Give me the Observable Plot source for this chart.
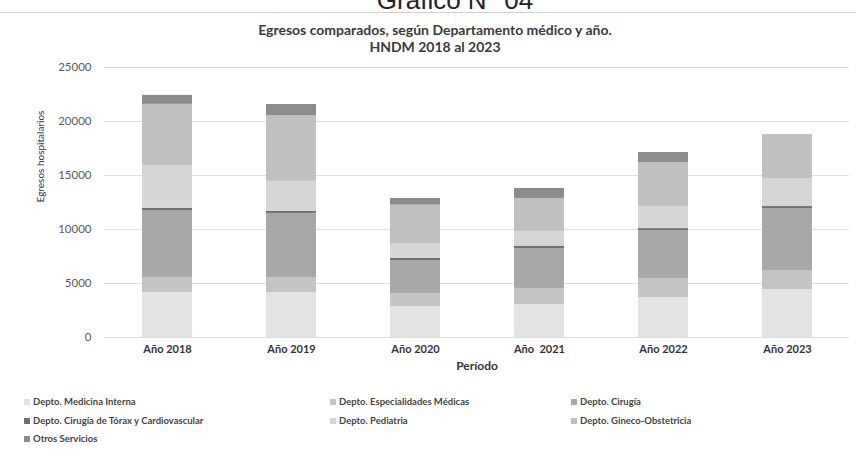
<!DOCTYPE html>
<html>
<head>
<meta charset="utf-8">
<script src="https://cdn.jsdelivr.net/npm/d3@7"></script>
<script src="https://cdn.jsdelivr.net/npm/@observablehq/plot@0.6"></script>
<style>
  html, body { margin: 0; padding: 0; background: #fff; }
  #page { position: relative; width: 856px; height: 452px; overflow: hidden; font-family: Lato, "Open Sans", sans-serif; color: #333; }
  #bigtitle { position: absolute; top: -15px; left: 0; width: 910px; text-align: center; font-family: "Liberation Sans", Arial, sans-serif; font-size: 26px; color: #222; }
  #rule { position: absolute; top: 12px; left: 0; width: 856px; height: 1px; background: #d0d0d0; }
  #t1 { position: absolute; top: 21px; left: 0; width: 870px; text-align: center; font-weight: 700; font-size: 14px; color: #3a3a3a; }
  #t2 { position: absolute; top: 38px; left: 0; width: 870px; text-align: center; font-weight: 700; font-size: 14px; color: #3a3a3a; }
  #chart { position: absolute; top: 55px; left: 0; }
  .leg { position: absolute; font-size: 9.5px; font-weight: 700; color: #444; white-space: nowrap; line-height: 12px; }
  .leg i { display: inline-block; width: 6px; height: 6px; margin-right: 3px; vertical-align: 0px; }
</style>
</head>
<body>
<div id="page">
  <div id="bigtitle">Gráfico N° 04</div>
  <div id="rule"></div>
  <div id="t1">Egresos comparados, según Departamento médico y año.</div>
  <div id="t2">HNDM 2018 al 2023</div>
  <div id="chart"></div>
  <div id="legend"></div>
</div>
<script>
const years = ["Año 2018", "Año 2019", "Año 2020", "Año  2021", "Año 2022", "Año 2023"];
const departments = [
  "Depto. Medicina Interna",
  "Depto. Especialidades Médicas",
  "Depto. Cirugía",
  "Depto. Cirugía de Tórax y Cardiovascular",
  "Depto. Pediatria",
  "Depto. Gineco-Obstetricia",
  "Otros Servicios"
];
const medicinaInterna   = [4170, 4170, 2870, 3060, 3700, 4440];
const especialidades    = [1390, 1390, 1200, 1480, 1760, 1760];
const cirugia           = [6200, 5930, 3060, 3700, 4440, 5740];
const cirugiaTorax      = [200, 185, 185, 185, 185, 185];
const pediatria         = [3980, 2780, 1390, 1400, 2040, 2590];
const ginecoObstetricia = [5650, 6100, 3550, 3050, 4070, 4070];
const otrosServicios    = [830, 1020, 620, 930, 930, 0];
const yTicks = [0, 5000, 10000, 15000, 20000, 25000];
const colors = ["#e3e3e3", "#c4c4c4", "#a8a8a8", "#707070", "#d6d6d6", "#c0c0c0", "#8c8c8c"];

const series = [medicinaInterna, especialidades, cirugia, cirugiaTorax, pediatria, ginecoObstetricia, otrosServicios];
const data = [];
series.forEach((vals, di) => vals.forEach((v, yi) => data.push({year: years[yi], dept: departments[di], value: v})));

const chart = Plot.plot({
  width: 856,
  height: 320,
  marginTop: 12,
  marginBottom: 38,
  marginLeft: 104,
  marginRight: 7,
  style: {fontFamily: "Lato, 'Open Sans', sans-serif", background: "transparent"},
  x: {domain: years, paddingInner: 0.6, paddingOuter: 0.3},
  y: {domain: [0, 25000]},
  color: {domain: departments, range: colors},
  marks: [
    Plot.gridY(yTicks, {stroke: "#e0e0e0", strokeOpacity: 1}),
    Plot.barY(data, {x: "year", y: "value", fill: "dept", order: departments}),
    Plot.axisY(yTicks, {tickSize: 0, tickPadding: 13, fontSize: 11.5, fill: "#5a5a5a", label: null, tickFormat: d => String(d)}),
    Plot.axisX({tickSize: 0, tickPadding: 8, fontSize: 11, fontWeight: "bold", fill: "#333", label: null}),
    Plot.text(["Período"], {frameAnchor: "bottom", dy: 32, fontSize: 12, fontWeight: "bold", fill: "#333"}),
    Plot.text(["Egresos hospitalarios"], {frameAnchor: "left", dx: -64, rotate: -90, fontSize: 10, fill: "#333"})
  ]
});
document.getElementById("chart").appendChild(chart);

const legend = document.getElementById("legend");
const legPos = [[24, 396], [330, 396], [571, 396], [24, 415], [330, 415], [571, 415], [24, 433]];
departments.forEach((d, i) => {
  const el = document.createElement("div");
  el.className = "leg";
  el.style.left = legPos[i][0] + "px";
  el.style.top = legPos[i][1] + "px";
  el.innerHTML = `<i style="background:${colors[i]}"></i>${d}`;
  legend.appendChild(el);
});
</script>
</body>
</html>
